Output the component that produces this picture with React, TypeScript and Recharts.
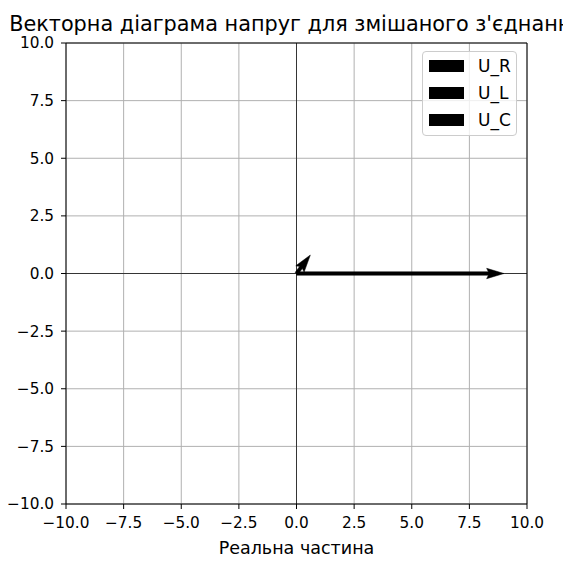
import React from "react";
import {
  ScatterChart,
  Scatter,
  XAxis,
  YAxis,
  CartesianGrid,
  ReferenceLine,
} from "recharts";

// vector names and components (real, imaginary)
const vectorNames = ["U_R", "U_L", "U_C"];
const realParts = [9, 0.6, 0];
const imagParts = [0, 0.8, 0];

const axisTicks = [-10, -7.5, -5, -2.5, 0, 2.5, 5, 7.5, 10];

const FONT = "DejaVu Sans, sans-serif";
const fmt = (v: number) => v.toFixed(1).replace("-", "\u2212");

// matplotlib quiver-like arrow (shaft + head as one polygon)
const QuiverArrow = (props: any) => {
  const pts = props.points || [];
  if (pts.length < 2) return <g />;
  const x0 = pts[0].x;
  const y0 = pts[0].y;
  const x1 = pts[1].x;
  const y1 = pts[1].y;
  const L = Math.hypot(x1 - x0, y1 - y0);
  if (!isFinite(L) || L < 1) return <g />;
  const ux = (x1 - x0) / L;
  const uy = (y1 - y0) / L;
  const vx = -uy;
  const vy = ux;
  const w = 1.73;
  let hl = 17.3;
  let ha = 15.6;
  let hw = 5.2;
  if (L < hl) {
    const k = L / hl;
    hl *= k;
    ha *= k;
    hw *= k;
  }
  const p = (a: number, b: number) =>
    `${x0 + ux * a + vx * b},${y0 + uy * a + vy * b}`;
  const poly = [
    p(0, -w),
    p(L - ha, -w),
    p(L - hl, -hw),
    p(L, 0),
    p(L - hl, hw),
    p(L - ha, w),
    p(0, w),
  ].join(" ");
  return <polygon points={poly} fill="#000" stroke="#000" strokeWidth={0.5} />;
};

const rowTops = [59.5, 86.5, 113.5];

export default function App() {
  const series = vectorNames.map((name, i) => ({
    name,
    data: [
      { x: 0, y: 0 },
      { x: realParts[i], y: imagParts[i] },
    ],
  }));

  return (
    <div
      style={{
        position: "absolute",
        left: 0,
        top: 0,
        width: 563,
        height: 563,
        overflow: "hidden",
        background: "#fff",
        fontFamily: FONT,
      }}
    >
      <ScatterChart
        width={563}
        height={563}
        margin={{ top: 43, right: 36, bottom: 0, left: 0 }}
      >
        <CartesianGrid stroke="#b0b0b0" strokeWidth={1} />
        <XAxis
          type="number"
          dataKey="x"
          domain={[-10, 10]}
          ticks={axisTicks}
          allowDataOverflow
          interval={0}
          height={59}
          stroke="#000"
          tickSize={5}
          tickMargin={8.5}
          tickFormatter={fmt}
          tick={{ fill: "#000", fontSize: 15.3, fontFamily: FONT }}
          label={{
            value: "Реальна частина",
            position: "insideBottom",
            offset: 9,
            fill: "#000",
            fontSize: 17.5,
            fontFamily: FONT,
          }}
        />
        <YAxis
          type="number"
          dataKey="y"
          domain={[-10, 10]}
          ticks={axisTicks}
          allowDataOverflow
          interval={0}
          width={66}
          stroke="#000"
          tickSize={5}
          tickMargin={7}
          tickFormatter={fmt}
          tick={{ fill: "#000", fontSize: 15.3, fontFamily: FONT }}
        />
        <ReferenceLine y={10} stroke="#000" strokeWidth={1} />
        <ReferenceLine x={10} stroke="#000" strokeWidth={1} />
        <ReferenceLine y={0} stroke="#000" strokeWidth={0.7} />
        <ReferenceLine x={0} stroke="#000" strokeWidth={0.7} />
        {series.map((s) => (
          <Scatter
            key={s.name}
            name={s.name}
            data={s.data}
            line={QuiverArrow}
            shape={() => <g />}
            legendType="none"
            isAnimationActive={false}
          />
        ))}
      </ScatterChart>

      <svg
        width={563}
        height={40}
        style={{ position: "absolute", left: 0, top: 0 }}
      >
        <text
          x={296.5}
          y={30.7}
          textAnchor="middle"
          fontSize={20.8}
          fontFamily={FONT}
          fill="#000"
        >
          Векторна діаграма напруг для змішаного з'єднання
        </text>
      </svg>

      <div
        style={{
          position: "absolute",
          left: 421.5,
          top: 50.5,
          width: 95,
          height: 85,
          boxSizing: "border-box",
          border: "1px solid #cccccc",
          borderRadius: 4,
          background: "rgba(255,255,255,0.8)",
        }}
      />
      {vectorNames.map((name, i) => (
        <React.Fragment key={name}>
          <div
            style={{
              position: "absolute",
              left: 429,
              top: rowTops[i],
              width: 35,
              height: 12.5,
              background: "#000",
            }}
          />
          <div
            style={{
              position: "absolute",
              left: 478,
              top: rowTops[i] - 2,
              fontSize: 17,
              lineHeight: "17px",
              color: "#000",
              whiteSpace: "nowrap",
            }}
          >
            {name}
          </div>
        </React.Fragment>
      ))}
    </div>
  );
}
